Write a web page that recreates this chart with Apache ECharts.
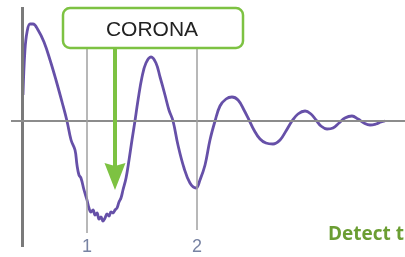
<!DOCTYPE html>
<html>
<head>
<meta charset="utf-8">
<script src="https://cdn.jsdelivr.net/npm/echarts@6/dist/echarts.min.js"></script>
<style>html,body{margin:0;padding:0;background:#fff;}#c{width:405px;height:257px;}</style>
</head>
<body>
<div id="c"></div>
<script>
// Signal samples: time (x) and amplitude (y)
var xs = [0.418,0.436,0.455,0.482,0.509,0.555,0.609,0.664,0.718,0.773,0.818,0.855,0.891,0.909,0.927,0.945,0.973,1.000,1.018,1.036,1.055,1.073,1.091,1.109,1.127,1.145,1.164,1.182,1.200,1.218,1.236,1.255,1.273,1.291,1.309,1.327,1.355,1.382,1.409,1.436,1.464,1.500,1.536,1.582,1.627,1.664,1.709,1.745,1.782,1.827,1.882,1.936,1.991,2.027,2.073,2.118,2.164,2.209,2.264,2.318,2.373,2.427,2.473,2.518,2.573,2.627,2.691,2.755,2.809,2.864,2.918,2.982,3.036,3.082,3.127,3.182,3.236,3.291,3.345,3.409,3.464,3.518,3.573,3.627,3.673,3.709];
var ys = [0.26,0.71,0.89,0.97,0.97,0.91,0.79,0.61,0.41,0.19,0,-0.19,-0.29,-0.44,-0.54,-0.57,-0.69,-0.79,-0.87,-0.91,-0.89,-0.94,-0.92,-0.98,-0.96,-1.00,-0.97,-0.93,-0.95,-0.91,-0.92,-0.89,-0.87,-0.81,-0.77,-0.69,-0.57,-0.39,-0.19,0,0.21,0.44,0.58,0.64,0.58,0.44,0.26,0.11,0,-0.24,-0.47,-0.62,-0.67,-0.59,-0.44,-0.19,0,0.15,0.22,0.24,0.21,0.11,0.01,-0.09,-0.18,-0.22,-0.23,-0.19,-0.10,0,0.07,0.10,0.07,0.01,-0.05,-0.08,-0.07,-0.02,0.03,0.05,0.02,-0.02,-0.04,-0.03,-0.01,0];
var tickValues = [1, 2];
var annotationText = 'CORONA';
var arrowX = 1.2545;
var arrowFrom = 0.73;
var arrowTo = -0.555;
var captionText = 'Detect the virus';

var points = xs.map(function (x, i) { return [x, ys[i]]; });
var chart = echarts.init(document.getElementById('c'), null, {renderer: 'canvas'});
chart.setOption({
  animation: false,
  backgroundColor: '#fff',
  grid: {left: 0, top: 0, width: 405, height: 257, containLabel: false},
  xAxis: {
    type: 'value', min: 0.2091, max: 3.8909,
    axisLine: {show: false}, axisTick: {show: false}, splitLine: {show: false},
    axisLabel: {
      show: true, inside: true, margin: 1, customValues: tickValues,
      color: '#7883a3', fontSize: 18, fontFamily: 'Liberation Sans',
      verticalAlign: 'bottom'
    }
  },
  yAxis: {type: 'value', min: -1.36, max: 1.21, show: false},
  series: [
    {
      type: 'line', data: [], z: 1, silent: true,
      markLine: {
        silent: true, symbol: 'none', animation: false,
        label: {show: false},
        data: [
          [{coord: [0.409, 1.14]}, {coord: [0.409, -1.26], lineStyle: {color: '#7a7a7a', width: 3, type: 'solid'}}],
          [{coord: [0.309, 0]}, {coord: [3.8909, 0], lineStyle: {color: '#8c8c8c', width: 2, type: 'solid'}}],
          [{coord: [1, 0.73]}, {coord: [1, -1.12], lineStyle: {color: '#a0a0a0', width: 1.5, type: 'solid'}}],
          [{coord: [2, 0.73]}, {coord: [2, -1.09], lineStyle: {color: '#a0a0a0', width: 1.5, type: 'solid'}}]
        ]
      }
    },
    {
      type: 'line', data: points, z: 3, silent: true,
      showSymbol: false, smooth: 0.4,
      lineStyle: {color: '#6650a8', width: 2.8}
    },
    {
      type: 'line', data: [], z: 4, silent: true,
      markLine: {
        silent: true, animation: false,
        symbol: ['none', 'path://M0,13 L5,11.5 L10,13 L5,0 Z'], symbolSize: [21, 27],
        label: {show: false},
        lineStyle: {color: '#7dc242', width: 4, type: 'solid'},
        itemStyle: {color: '#7dc242'},
        data: [
          [{coord: [arrowX, arrowFrom]}, {coord: [arrowX, arrowTo]}]
        ]
      }
    }
  ],
  graphic: [
    {
      type: 'rect', z: 10,
      shape: {x: 63, y: 8, width: 180, height: 40, r: 7},
      style: {fill: '#fff', stroke: '#7dc242', lineWidth: 2.5}
    },
    {
      type: 'text', z: 11, x: 152, y: 30,
      style: {text: annotationText, fill: '#222', font: '21px "Liberation Sans"', align: 'center', verticalAlign: 'middle'}
    },
    {
      type: 'text', z: 11, x: 328, y: 235,
      style: {text: captionText, fill: '#6b9e33', font: 'bold 19px "Open Sans"', align: 'left', verticalAlign: 'middle'}
    }
  ]
});
</script>
</body>
</html>
